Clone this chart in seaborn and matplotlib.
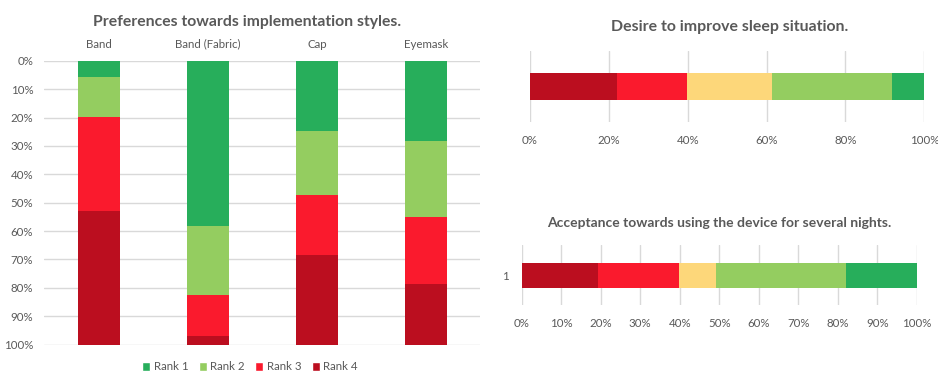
import numpy as np
import pandas as pd
import seaborn as sns
import matplotlib
matplotlib.use("Agg")
import matplotlib.pyplot as plt
from matplotlib.patches import Patch
from matplotlib.ticker import PercentFormatter, MultipleLocator

# ---- data ----
styles = ["Band", "Band (Fabric)", "Cap", "Eyemask"]
rank_labels = ["Rank 1", "Rank 2", "Rank 3", "Rank 4"]
rank1 = [5.6, 58.1, 24.6, 28.3]
rank2 = [14.2, 24.3, 22.8, 26.6]
rank3 = [33.0, 14.4, 21.0, 23.6]
rank4 = [47.2, 3.2, 31.6, 21.5]

desire_levels = ["Very low", "Low", "Neutral", "High", "Very high"]
desire_share = [22.0, 17.7, 21.8, 30.2, 8.3]

acceptance_levels = ["Very low", "Low", "Neutral", "High", "Very high"]
acceptance_share = [19.2, 20.5, 9.6, 32.8, 17.9]

# ---- style ----
sns.set_theme(style="white")
plt.rcParams["font.family"] = ["Lato", "DejaVu Sans"]
TEXT = "#595959"
GRID = "#D9D9D9"
DARK_GREEN = "#27AE5B"
LIGHT_GREEN = "#94CD60"
YELLOW = "#FDD77A"
RED = "#FA1A2D"
DARK_RED = "#BB0E1F"
rank_colors = [DARK_GREEN, LIGHT_GREEN, RED, DARK_RED]
scale_colors = [DARK_RED, RED, YELLOW, LIGHT_GREEN, DARK_GREEN]
TICK_SIZE = 8.3

fig = plt.figure(figsize=(9.38, 3.72), dpi=100)

# ---- left: stacked columns, 0% at top ----
ax1 = fig.add_axes([0.0474, 0.0734, 0.4648, 0.7634])
ranks = np.array([rank1, rank2, rank3, rank4])
cum = np.cumsum(ranks, axis=0)
df = pd.DataFrame({"style": styles})
for i in range(3, -1, -1):
    df["v"] = cum[i]
    sns.barplot(data=df, x="style", y="v", color=rank_colors[i], saturation=1,
                width=0.39, ax=ax1, order=styles, linewidth=0)
ax1.set_ylim(100, 0)
ax1.xaxis.tick_top()
ax1.set_xlabel("")
ax1.set_ylabel("")
ax1.yaxis.set_major_locator(MultipleLocator(10))
ax1.yaxis.set_major_formatter(PercentFormatter(decimals=0))
ax1.grid(axis="y", color=GRID, linewidth=1)
ax1.set_axisbelow(True)
for s in ax1.spines.values():
    s.set_visible(False)
ax1.tick_params(axis="both", length=0, labelsize=TICK_SIZE, colors=TEXT)
ax1.tick_params(axis="x", pad=8)
ax1.tick_params(axis="y", pad=8)
fig.text(247 / 938, 1 - 22 / 372, "Preferences towards implementation styles.",
         ha="center", va="center", fontsize=11.3, fontweight="bold", color=TEXT)
handles = [Patch(facecolor=c, label=l) for c, l in zip(rank_colors, rank_labels)]
fig.legend(handles=handles, loc="center", bbox_to_anchor=(250 / 938, 1 - 367 / 372),
           ncol=4, frameon=False, fontsize=TICK_SIZE, handlelength=0.7, handleheight=0.7,
           handletextpad=0.3, columnspacing=0.9, labelcolor=TEXT, borderpad=0)


def stacked_hbar(ax, shares, colors, width, step, show_label):
    c = np.cumsum(shares)
    d = pd.DataFrame({"row": ["1"]})
    for i in range(len(shares) - 1, -1, -1):
        d["v"] = [c[i]]
        sns.barplot(data=d, x="v", y="row", orient="h", color=colors[i],
                    saturation=1, width=width, ax=ax, linewidth=0)
    ax.set_xlim(0, 100)
    ax.set_ylim(0.5, -0.5)
    ax.set_xlabel("")
    ax.set_ylabel("")
    ax.xaxis.set_major_locator(MultipleLocator(step))
    ax.xaxis.set_major_formatter(PercentFormatter(decimals=0))
    ax.grid(axis="x", color=GRID, linewidth=1)
    ax.set_axisbelow(True)
    for s in ax.spines.values():
        s.set_visible(False)
    ax.tick_params(axis="both", length=0, labelsize=TICK_SIZE, colors=TEXT, pad=9)
    if not show_label:
        ax.set_yticks([])


# ---- top right ----
ax2 = fig.add_axes([0.565, 0.672, 0.4204, 0.191])
stacked_hbar(ax2, desire_share, scale_colors, 0.39, 20, False)
fig.text(730 / 938, 1 - 27 / 372, "Desire to improve sleep situation.",
         ha="center", va="center", fontsize=11.4, fontweight="bold", color=TEXT)

# ---- bottom right ----
ax3 = fig.add_axes([0.5562, 0.18, 0.4211, 0.161])
stacked_hbar(ax3, acceptance_share, scale_colors, 0.42, 10, True)
fig.text(719.5 / 938, 1 - 223 / 372, "Acceptance towards using the device for several nights.",
         ha="center", va="center", fontsize=10.0, fontweight="bold", color=TEXT)

fig.savefig("out.png", dpi=100)
